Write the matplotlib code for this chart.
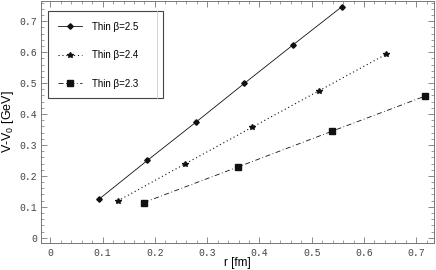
import matplotlib
matplotlib.use("Agg")
import matplotlib.pyplot as plt
from matplotlib.ticker import MultipleLocator
from matplotlib.patches import Rectangle

# данные
r25 = [0.0924, 0.1855, 0.2786, 0.371, 0.4646, 0.5577]
v25 = [0.124, 0.250, 0.374, 0.499, 0.624, 0.747]
r24 = [0.1287, 0.2568, 0.3856, 0.5143, 0.643]
v24 = [0.119, 0.238, 0.357, 0.4755, 0.594]
r23 = [0.179, 0.359, 0.538, 0.717]
v23 = [0.114, 0.229, 0.344, 0.458]
labels = ["Thin β=2.5", "Thin β=2.4", "Thin β=2.3"]

plt.rcParams['font.family'] = ['Liberation Sans', 'DejaVu Sans']
plt.rcParams['mathtext.fontset'] = 'custom'
plt.rcParams['mathtext.rm'] = 'Liberation Sans'

fig = plt.figure(figsize=(4.36, 2.70), dpi=100)
ax = fig.add_axes([0.094, 0.101, 0.9014, 0.897])

ax.plot(r25, v25, color='#111111', lw=0.6, ls='-', marker='D', ms=2.8, label=labels[0])
ax.plot(r24, v24, color='#111111', lw=0.8, ls=(0, (1, 2.5)), marker='*', ms=4.3, label=labels[1])
ax.plot(r23, v23, color='#111111', lw=0.6, ls=(0, (6, 3, 1, 3)), marker='s', ms=4.3, label=labels[2])

ax.set_xlim(-0.018, 0.734)
ax.set_ylim(-0.016, 0.767)
ax.xaxis.set_major_locator(MultipleLocator(0.1))
ax.xaxis.set_minor_locator(MultipleLocator(0.02))
ax.yaxis.set_major_locator(MultipleLocator(0.1))
ax.yaxis.set_minor_locator(MultipleLocator(0.02))
ax.xaxis.set_major_formatter(lambda x, _: "0" if abs(x) < 1e-9 else f"{x:.1f}")
ax.yaxis.set_major_formatter(lambda x, _: "0" if abs(x) < 1e-9 else f"{x:.1f}")

ax.tick_params(which='both', direction='in', top=True, right=True, color='#777777')
ax.tick_params(which='major', length=4, width=0.6, labelsize=7, labelcolor='#444444')
ax.tick_params(axis='x', which='major', pad=4)
ax.tick_params(axis='y', which='major', pad=3)
ax.tick_params(which='minor', length=2, width=0.5)
for lab in ax.get_xticklabels() + ax.get_yticklabels():
    lab.set_family('Liberation Mono')
for s in ax.spines.values():
    s.set_color('#777777')
    s.set_linewidth(0.7)

ax.set_xlabel("r [fm]", fontsize=8.5, labelpad=-1)
ax.set_ylabel("V-V$_0$ [GeV]", fontsize=9, labelpad=2)

# рамка легенды как в Mathematica
ax.add_patch(Rectangle((0.0178, 0.5974), 0.2926, 0.3592, transform=ax.transAxes,
                       facecolor='white', edgecolor='#444444', lw=0.8, zorder=4))
ax.plot([0.2952, 0.2952], [0.5974, 0.9566], transform=ax.transAxes,
        color='#cccccc', lw=0.6, zorder=4.5)
leg = ax.legend(loc='upper left', bbox_to_anchor=(0.043, 0.913), fontsize=7,
                frameon=False, handlelength=2.5, handletextpad=1.0,
                labelspacing=1.9, borderpad=0, borderaxespad=0)
leg.set_zorder(5)

fig.savefig("out.png", dpi=100)
